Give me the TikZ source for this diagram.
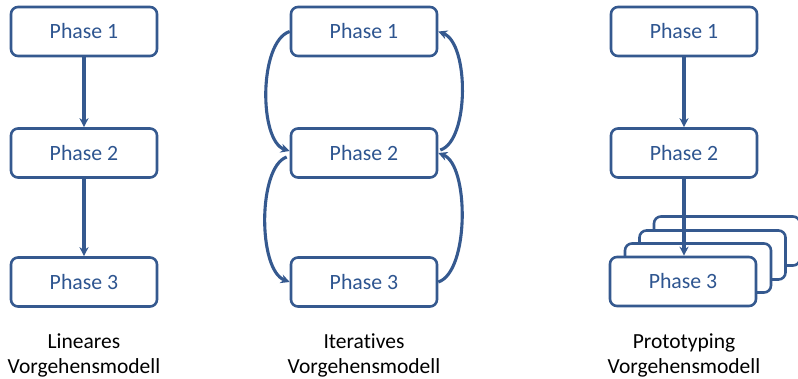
\documentclass[tikz,border=0pt]{standalone}
\usepackage{fontspec}
\setmainfont{Carlito}[Ligatures=NoCommon]
\usetikzlibrary{arrows.meta,calc}
\definecolor{edge}{HTML}{35598F}
\definecolor{phasetext}{HTML}{2E5590}
\tikzset{
  phase/.style={draw=edge, line width=2.6pt, rounded corners=7pt, fill=white,
    minimum width=146pt, minimum height=49pt, inner sep=0pt,
    text=phasetext, font=\fontsize{21.8}{24}\selectfont},
  flow/.style={draw=edge, line width=3.1pt, -{Stealth[length=9pt,width=9pt]}},
  caption/.style={align=center, font=\fontsize{21.5}{25}\selectfont, text=black}
}
\begin{document}
\begin{tikzpicture}[x=1pt,y=-1pt]
\useasboundingbox (0,0) rectangle (798,379);

% linear model
\node[phase] (l1) at (84,31.5) {Phase 1};
\node[phase] (l2) at (84,153) {Phase 2};
\node[phase] (l3) at (84,282) {Phase 3};
\draw[flow] (l1) -- (l2);
\draw[flow] (l2) -- (l3);
\node[caption] (lc) at (84,355) {Lineares\\Vorgehensmodell};

% iterative model
\node[phase] (i1) at (364,31.5) {Phase 1};
\node[phase] (i2) at (364,153) {Phase 2};
\node[phase] (i3) at (364,282) {Phase 3};
\draw[flow] (i1.west) .. controls ($(i1.west)+(-31,10)$) and ($(i2.west)+(-31,-12)$) .. ($(i2.west)+(0,-2)$);
\draw[flow] ($(i2.west)+(-3,4)$) .. controls ($(i2.west)+(-32,14)$) and ($(i3.west)+(-32,-12)$) .. (i3.west);
\draw[flow] (i3.east) .. controls ($(i3.east)+(31,-10)$) and ($(i2.east)+(31,12)$) .. (i2.east);
\draw[flow] ($(i2.east)+(2,-3)$) .. controls ($(i2.east)+(31,-12)$) and ($(i1.east)+(31,12)$) .. (i1.east);
\node[caption] (ic) at (364,355) {Iteratives\\Vorgehensmodell};

% prototyping model
\node[phase] (p1) at (684,31.5) {Phase 1};
\node[phase] (p2) at (684,153) {Phase 2};
\node[phase] (p3d) at (727,241) {};
\node[phase] (p3c) at (712.5,255) {};
\node[phase] (p3b) at (698,268) {};
\node[phase] (p3) at (683,281.5) {Phase 3};
\draw[flow] (p1) -- (p2);
\draw[flow] (p2.south) -- (p3.north -| p2.south);
\node[caption] (pc) at (684,355) {Prototyping\\Vorgehensmodell};
\end{tikzpicture}
\end{document}
